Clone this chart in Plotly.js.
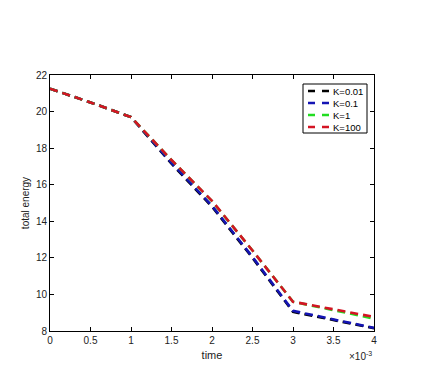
<!DOCTYPE html>
<html>
<head>
<meta charset="utf-8">
<script src="https://cdn.plot.ly/plotly-3.0.1.min.js"></script>
<style>html,body{margin:0;padding:0;background:#fff;}#chart{width:431px;height:366px;}</style>
</head>
<body>
<div id="chart"></div>
<script>
// time in units of 1e-3
var time = [0, 0.5, 1, 1.5, 2, 2.5, 3, 3.5, 4];
var seriesNames = ["K=0.01", "K=0.1", "K=1", "K=100"];
var energyK001 = [21.25, 20.5, 19.7, 17.15, 14.8, 12.0, 9.05, 8.6, 8.15];
var energyK01  = [21.25, 20.5, 19.7, 17.2, 14.85, 12.05, 9.1, 8.63, 8.17];
var energyK1   = [21.25, 20.5, 19.7, 17.35, 15.1, 12.4, 9.6, 9.15, 8.68];
var energyK100 = [21.25, 20.5, 19.7, 17.35, 15.12, 12.4, 9.6, 9.2, 8.77];
var xTicks = [0, 0.5, 1, 1.5, 2, 2.5, 3, 3.5, 4];
var yTicks = [8, 10, 12, 14, 16, 18, 20, 22];

var colors = ["#000000", "#1414b4", "#22dd22", "#d41424"];
var ys = [energyK001, energyK01, energyK1, energyK100];
var dashStyle = "8px,5px";
var traces = ys.map(function (y, i) {
  return {
    x: time, y: y, name: seriesNames[i], type: "scatter", mode: "lines",
    line: {color: colors[i], width: 2.6, dash: dashStyle}
  };
});

// plot area geometry (px) for placing the hand-made legend
var W = 431, H = 366, mL = 50, mR = 57, mT = 75, mB = 35;
var pw = W - mL - mR, ph = H - mT - mB;
function px(x) { return (x - mL) / pw; }
function py(y) { return (H - mB - y) / ph; }

var shapes = [{
  type: "rect", xref: "paper", yref: "paper",
  x0: px(303), x1: px(367), y0: py(133), y1: py(84),
  line: {color: "#000", width: 1}, fillcolor: "#fff", layer: "above"
}];
var annotations = [];
var rowY = [91, 103, 115, 127];
seriesNames.forEach(function (name, i) {
  shapes.push({
    type: "line", xref: "paper", yref: "paper",
    x0: px(308), x1: px(330), y0: py(rowY[i]), y1: py(rowY[i]),
    line: {color: colors[i], width: 2.6, dash: "7px,7px"}, layer: "above"
  });
  annotations.push({
    xref: "paper", yref: "paper", x: px(331), y: py(rowY[i]),
    xanchor: "left", yanchor: "middle", showarrow: false, text: name,
    font: {family: "Liberation Sans, Arial, sans-serif", size: 9.5, color: "#000"}
  });
});
annotations.push({
  xref: "paper", yref: "paper", x: px(347), y: py(348), xanchor: "left", yanchor: "top",
  text: "×10<sup>-3</sup>", showarrow: false,
  font: {family: "Liberation Sans, Arial, sans-serif", size: 10, color: "#222"}
});

var font = {family: "Liberation Sans, Arial, sans-serif", size: 10, color: "#222"};
var layout = {
  width: W, height: H,
  margin: {l: mL, r: mR, t: mT, b: mB},
  paper_bgcolor: "#fff", plot_bgcolor: "#fff",
  font: font,
  showlegend: false,
  xaxis: {
    range: [0, 4], tickvals: xTicks, ticktext: xTicks.map(String),
    ticks: "inside", ticklen: 4, tickcolor: "#000", showline: true, linecolor: "#000",
    linewidth: 1, mirror: "ticks", showgrid: false, zeroline: false,
    title: {text: "time", font: {size: 11, color: "#222"}, standoff: 6}
  },
  yaxis: {
    range: [8, 22], tickvals: yTicks,
    ticks: "inside", ticklen: 4, tickcolor: "#000", showline: true, linecolor: "#000",
    linewidth: 1, mirror: "ticks", showgrid: false, zeroline: false,
    title: {text: "total energy", font: {size: 10, color: "#222"}, standoff: 4}
  },
  shapes: shapes,
  annotations: annotations
};
Plotly.newPlot("chart", traces, layout, {staticPlot: true, displayModeBar: false});
</script>
</body>
</html>
